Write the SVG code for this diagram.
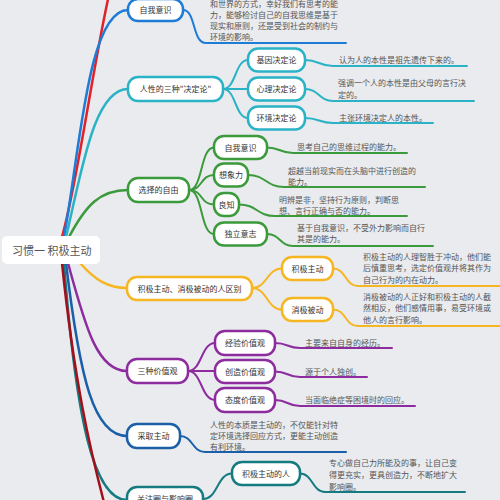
<svg xmlns="http://www.w3.org/2000/svg" width="500" height="500" viewBox="0 0 500 500">
<style>
text{font-family:"Noto Sans CJK SC","Noto Sans",sans-serif;}
.n{fill:#fff;stroke-width:2.5;}
.nt{font-size:8px;fill:#333;text-anchor:middle;}
.d{font-size:8px;fill:#555;}
.c{fill:none;stroke-width:2.5;stroke-linecap:round;}
.s{fill:none;stroke-width:2;stroke-linecap:round;}
.red{stroke:#e0222a;}.blue{stroke:#1e7bd6;}.cyan{stroke:#2ab3c6;}.green{stroke:#3b9a3c;}
.yel{stroke:#f6b623;}.pur{stroke:#8d2c9e;}.dblue{stroke:#1a5fa8;}.teal{stroke:#157b80;}.dred{stroke:#a3101b;}
</style>
<rect width="500" height="500" fill="#e9ebee"/>
<g id="connectors">
<path class="c red" d="M62,237 C78,180 92,70 110,-10"/>
<path class="c blue" d="M64,237 C80,150 88,10 128,10"/>
<path class="c cyan" d="M66,237 C82,170 94,89 128,89"/>
<path class="c green" d="M69,237 C86,205 100,190 128,190"/>
<path class="c yel" d="M80,263 C95,280 108,288 127,288"/>
<path class="c pur" d="M68,263 C86,330 98,371 127,371"/>
<path class="c dblue" d="M66,263 C80,380 94,436 127,436"/>
<path class="c teal" d="M64,263 C76,420 94,500 127,500"/>
<path class="c dred" d="M62,263 C74,380 90,450 106,510"/>
<path class="s blue" d="M183,10 C196,10 192,43 206,43 L346,43"/>
<path class="s cyan" d="M223,89 C236,89 235,60 248,60 M223,89 L248,89 M223,89 C236,89 235,118 248,118"/>
<path class="s cyan" d="M305,60 C319,60 319,66 333,66 L467,66 M305,89 C319,89 319,101 333,101 L474,101 M305,118 C319,118 319,123 333,123 L433,123"/>
<path class="s green" d="M189,190 C203,190 200,147.5 214,147.5 M189,190 C203,190 200,175 214,175 M189,190 C203,190 200,204.5 214,204.5 M189,190 C203,190 200,234 214,234"/>
<path class="s green" d="M267,147.5 C280,147.5 280,153 293,153 L407,153 M248,175 C266,175 266,187 284,187 L425,187 M239,204.5 C257,204.5 257,216 275,216 L407,216 M267,234 C280,234 280,246 293,246 L433,246"/>
<path class="s yel" d="M252,288 C267,288 267,268.5 282,268.5 M252,288 C267,288 267,309.5 282,309.5"/>
<path class="s yel" d="M333,268.5 C346,268.5 345,286 358,286 L502,286 M333,309.5 C346,309.5 345,326 358,326 L502,326"/>
<path class="s pur" d="M188,371 C202,371 201,343 215,343 M188,371 L215,371 M188,371 C202,371 201,400 215,400"/>
<path class="s pur" d="M275,343 C288,343 287,348 300,348 L392,348 M275,371.5 C288,371.5 287,377 300,377 L367,377 M275,400 C288,400 287,406 300,406 L415,406"/>
<path class="s dblue" d="M180,436 C193,436 192,452 205,452 L346,452"/>
<path class="s teal" d="M203,499 C218,499 217,473.5 232,473.5"/>
<path class="s teal" d="M300,473.5 C313,473.5 312,492 325,492 L465,492"/>
</g>
<g id="root">
<rect x="2" y="236" width="98" height="28" rx="5" fill="#fff"/>
<text x="12" y="254.5" style="font-size:11px;fill:#555;">习惯一 积极主动</text>
</g>
<g id="n-ziwo1"><rect class="n blue" x="128" y="-1" width="55" height="22" rx="10"/><text class="nt" x="155.5" y="12.5">自我意识</text></g>
<g id="ziwo1-desc">
<text class="d" x="210" y="7">和世界的方式，幸好我们有思考的能</text>
<text class="d" x="210" y="18">力，能够检讨自己的自我思维是基于</text>
<text class="d" x="210" y="29">现实和原则，还是受到社会的制约与</text>
<text class="d" x="210" y="39.5">环境的影响。</text>
</g>
<g id="n-renxing"><rect class="n cyan" x="128" y="77" width="95" height="24" rx="10"/><text class="nt" x="175.5" y="92">人性的三种"决定论"</text></g>
<g id="n-jiyin"><rect class="n cyan" x="248" y="48.5" width="57" height="23" rx="10"/><text class="nt" x="276.5" y="63">基因决定论</text></g>
<g id="n-xinli"><rect class="n cyan" x="248" y="77.5" width="57" height="23" rx="10"/><text class="nt" x="276.5" y="92">心理决定论</text></g>
<g id="n-huanjing"><rect class="n cyan" x="248" y="106.5" width="57" height="23" rx="10"/><text class="nt" x="276.5" y="121">环境决定论</text></g>
<g id="cyan-desc">
<text class="d" x="339" y="63">认为人的本性是祖先遗传下来的。</text>
<text class="d" x="338" y="86">强调一个人的本性是由父母的言行决</text>
<text class="d" x="338" y="98">定的。</text>
<text class="d" x="339" y="121">主张环境决定人的本性。</text>
</g>
<g id="n-xuanze"><rect class="n green" x="128" y="178" width="61" height="24" rx="10"/><text class="nt" x="158.5" y="193">选择的自由</text></g>
<g id="n-ziwo2"><rect class="n green" x="214" y="136" width="53" height="23" rx="10"/><text class="nt" x="240.5" y="150.5">自我意识</text></g>
<g id="n-xiangxiang"><rect class="n green" x="214" y="163.5" width="34" height="23" rx="10"/><text class="nt" x="231" y="178">想象力</text></g>
<g id="n-liangzhi"><rect class="n green" x="214" y="193" width="25" height="23" rx="10"/><text class="nt" x="226.5" y="207.5">良知</text></g>
<g id="n-duli"><rect class="n green" x="214" y="222.5" width="53" height="23" rx="10"/><text class="nt" x="240.5" y="237">独立意志</text></g>
<g id="green-desc">
<text class="d" x="297" y="150">思考自己的思维过程的能力。</text>
<text class="d" x="288" y="174">超越当前现实而在头脑中进行创造的</text>
<text class="d" x="288" y="185">能力。</text>
<text class="d" x="279" y="203">明辨是非，坚持行为原则，判断思</text>
<text class="d" x="279" y="214">想、言行正确与否的能力。</text>
<text class="d" x="297" y="231">基于自我意识，不受外力影响而自行</text>
<text class="d" x="297" y="242">其是的能力。</text>
</g>
<g id="n-qubie"><rect class="n yel" x="127" y="277" width="125" height="23" rx="10"/><text class="nt" x="189.5" y="291.5">积极主动、消极被动的人区别</text></g>
<g id="n-jiji"><rect class="n yel" x="282" y="257" width="51" height="23" rx="10"/><text class="nt" x="307.5" y="271.5">积极主动</text></g>
<g id="n-xiaoji"><rect class="n yel" x="282" y="298" width="51" height="23" rx="10"/><text class="nt" x="307.5" y="312.5">消极被动</text></g>
<g id="yel-desc">
<text class="d" x="363" y="260">积极主动的人理智胜于冲动，他们能</text>
<text class="d" x="363" y="271">后慎重思考，选定价值观并将其作为</text>
<text class="d" x="363" y="283">自己行为的内在动力。</text>
<text class="d" x="363" y="300">消极被动的人正好和积极主动的人截</text>
<text class="d" x="363" y="311">然相反，他们感情用事，易受环境或</text>
<text class="d" x="363" y="323">他人的言行影响。</text>
</g>
<g id="n-sanzhong"><rect class="n pur" x="127" y="359" width="61" height="24" rx="10"/><text class="nt" x="157.5" y="374">三种价值观</text></g>
<g id="n-jingyan"><rect class="n pur" x="215" y="331" width="60" height="24" rx="10"/><text class="nt" x="245" y="346">经验价值观</text></g>
<g id="n-chuangzao"><rect class="n pur" x="215" y="360" width="60" height="23" rx="10"/><text class="nt" x="245" y="374.5">创造价值观</text></g>
<g id="n-taidu"><rect class="n pur" x="215" y="388" width="60" height="24" rx="10"/><text class="nt" x="245" y="403">态度价值观</text></g>
<g id="pur-desc">
<text class="d" x="305" y="346">主要来自自身的经历。</text>
<text class="d" x="305" y="375">源于个人独创。</text>
<text class="d" x="305" y="403">当面临绝症等困境时的回应。</text>
</g>
<g id="n-caiqu"><rect class="n dblue" x="127" y="424" width="53" height="24" rx="10"/><text class="nt" x="153.5" y="439">采取主动</text></g>
<g id="caiqu-desc">
<text class="d" x="210" y="428">人性的本质是主动的，不仅能针对特</text>
<text class="d" x="210" y="439">定环境选择回应方式，更能主动创造</text>
<text class="d" x="210" y="450">有利环境。</text>
</g>
<g id="n-guanzhu"><rect class="n teal" x="127" y="487" width="76" height="24" rx="10"/><text class="nt" x="165" y="502">关注圈与影响圈</text></g>
<g id="n-jijiren"><rect class="n teal" x="232" y="462" width="68" height="23" rx="10"/><text class="nt" x="266" y="476.5">积极主动的人</text></g>
<g id="teal-desc">
<text class="d" x="329" y="466">专心做自己力所能及的事，让自己变</text>
<text class="d" x="329" y="478">得更充实，更具创造力，不断地扩大</text>
<text class="d" x="329" y="490">影响圈。</text>
</g>
</svg>
